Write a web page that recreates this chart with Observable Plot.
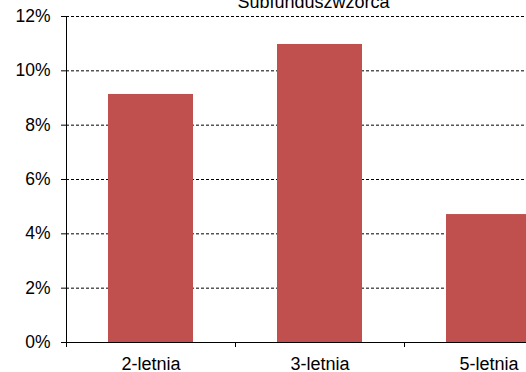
<!DOCTYPE html>
<html>
<head>
<meta charset="utf-8">
<script src="https://cdn.jsdelivr.net/npm/d3@7"></script>
<script src="https://cdn.jsdelivr.net/npm/@observablehq/plot@0.6"></script>
<style>
  html, body { margin: 0; padding: 0; background: #fff; overflow: hidden; }
</style>
</head>
<body>
<div id="chart"></div>
<script>
const title = "Subfunduszwzorca";
const categories = ["2-letnia", "3-letnia", "5-letnia"];
const values = [0.0913, 0.1097, 0.0471];
const yTicks = [0, 0.02, 0.04, 0.06, 0.08, 0.10, 0.12];

const data = categories.map((c, i) => ({cat: c, value: values[i]}));

const chart = Plot.plot({
  width: 526,
  height: 372,
  marginLeft: 66,
  marginRight: 0,
  marginTop: 16,
  marginBottom: 30,
  style: {
    fontFamily: "'Liberation Sans', Arial, sans-serif",
    fontSize: "17.5px",
    color: "#000",
    background: "#fff",
    overflow: "hidden"
  },
  x: {domain: categories, range: [66, 573], paddingInner: 0.5, paddingOuter: 0.25, align: 0.5},
  y: {domain: [0, 0.12]},
  marks: [
    Plot.gridY(yTicks, {stroke: "#000", strokeOpacity: 1, strokeWidth: 1, strokeDasharray: "3,2"}),
    Plot.barY(data, {x: "cat", y: "value", fill: "#C0504D"}),
    Plot.axisY(yTicks, {tickFormat: d3.format(".0%"), tickSize: 5, tickPadding: 11, stroke: "#000", label: null}),
    Plot.axisX({tickSize: 0, tickPadding: 15, fontSize: 18, label: null}),
    Plot.axisX({tickSize: 5, tickFormat: () => "", dx: -84.5, stroke: "#000", label: null}),
    Plot.ruleY([0], {stroke: "#000", strokeWidth: 1}),
    Plot.frame({anchor: "left", stroke: "#000"}),
    Plot.text([title], {frameAnchor: "top", lineAnchor: "bottom", dy: -9, dx: 17, fontSize: 18, fill: "#000"})
  ]
});
document.getElementById("chart").appendChild(chart);
</script>
</body>
</html>
